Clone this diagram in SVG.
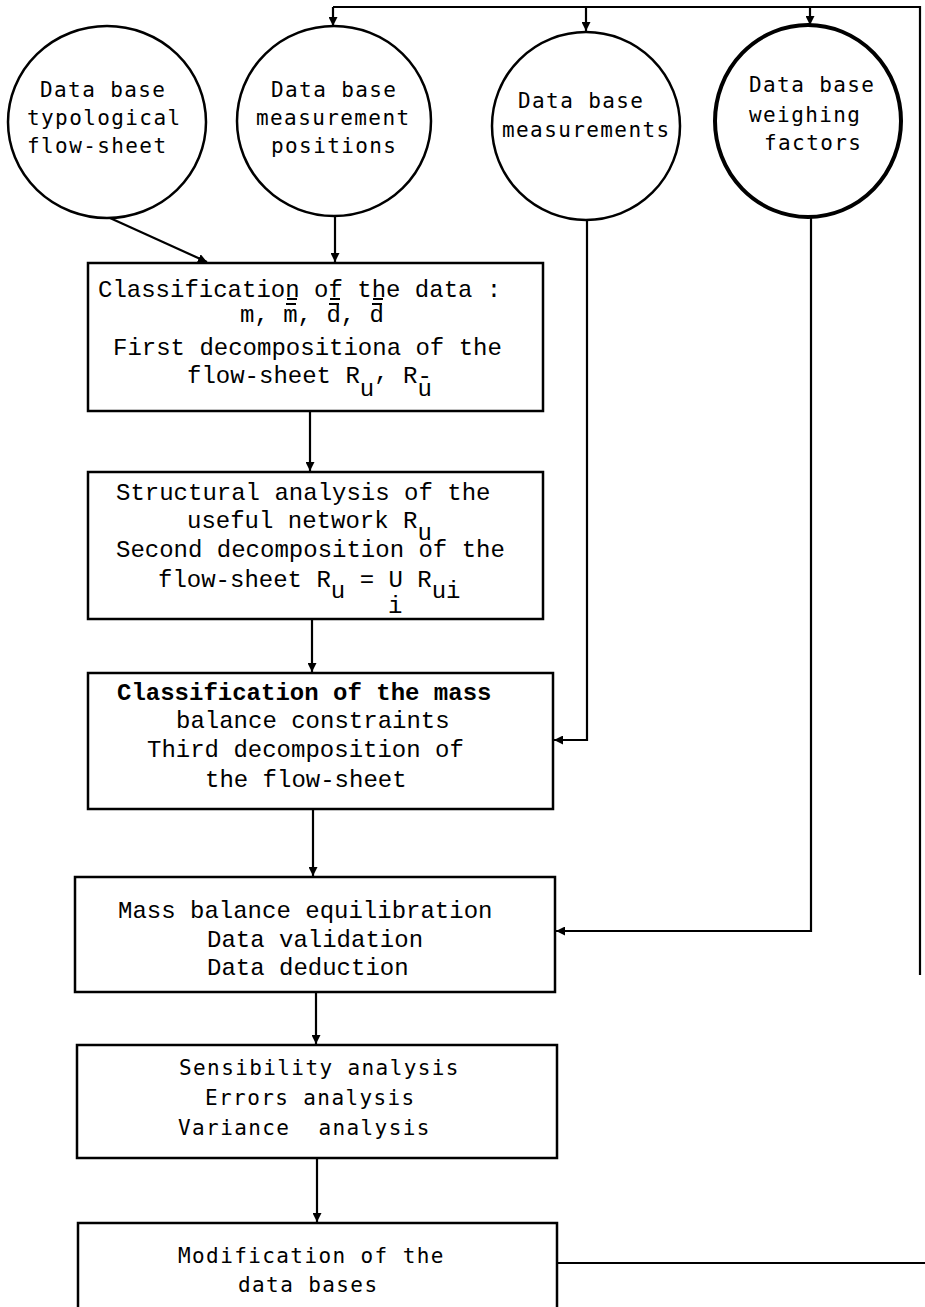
<svg xmlns="http://www.w3.org/2000/svg" width="925" height="1307" viewBox="0 0 925 1307">
  <style>
    .db { fill: #fff; stroke: #000; stroke-width: 2.5; }
    .db.heavy { stroke-width: 4; }
    .box { fill: #fff; stroke: #000; stroke-width: 2.5; }
    .wire { fill: none; stroke: #000; stroke-width: 2.2; }
    .bar { stroke: #000; stroke-width: 2; }
    .sans { font-family: "DejaVu Sans Mono", "Liberation Mono", monospace; font-size: 21px; letter-spacing: 1.4px; fill: #000; white-space: pre; }
    .mono { font-family: "Liberation Mono", "Courier New", monospace; font-size: 24px; fill: #000; }
    .bold { font-weight: bold; }
  </style>
  <defs>
    <marker id="head" viewBox="0 0 10 10" refX="10" refY="5" markerWidth="9" markerHeight="9" markerUnits="userSpaceOnUse" orient="auto">
      <path d="M0,0 L10,5 L0,10 z" fill="#000"/>
    </marker>
  </defs>

  <!-- connectors -->
  <g id="connectors">
    <!-- feedback loop: modification back to the data bases -->
    <polyline class="wire" points="557,1263 925,1263"/>
    <polyline class="wire" points="920,975 920,7 333,7"/>
    <line class="wire" x1="333" y1="7" x2="333" y2="26" marker-end="url(#head)"/>
    <line class="wire" x1="586" y1="7" x2="586" y2="31" marker-end="url(#head)"/>
    <line class="wire" x1="810" y1="7" x2="810" y2="25" marker-end="url(#head)"/>
    <!-- data bases into the first classification -->
    <line class="wire" x1="110" y1="218" x2="207" y2="262" marker-end="url(#head)"/>
    <line class="wire" x1="335" y1="217" x2="335" y2="262" marker-end="url(#head)"/>
    <!-- measurements into the constraint classification -->
    <polyline class="wire" points="587,220 587,740 554,740" marker-end="url(#head)"/>
    <!-- weighing factors into the equilibration -->
    <polyline class="wire" points="811,217 811,931 556,931" marker-end="url(#head)"/>
    <!-- main chain -->
    <line class="wire" x1="310" y1="411" x2="310" y2="471" marker-end="url(#head)"/>
    <line class="wire" x1="312" y1="619" x2="312" y2="672" marker-end="url(#head)"/>
    <line class="wire" x1="313" y1="809" x2="313" y2="876" marker-end="url(#head)"/>
    <line class="wire" x1="316" y1="992" x2="316" y2="1044" marker-end="url(#head)"/>
    <line class="wire" x1="317" y1="1158" x2="317" y2="1222" marker-end="url(#head)"/>
  </g>

  <!-- data bases -->
  <g id="db-typological">
    <ellipse class="db" cx="107" cy="122" rx="99" ry="96"/>
    <text class="sans" x="40" y="97">Data base</text>
    <text class="sans" x="27" y="125">typological</text>
    <text class="sans" x="27" y="153">flow-sheet</text>
  </g>
  <g id="db-positions">
    <ellipse class="db" cx="334" cy="121" rx="97" ry="95"/>
    <text class="sans" x="271" y="97">Data base</text>
    <text class="sans" x="256" y="125">measurement</text>
    <text class="sans" x="271" y="153">positions</text>
  </g>
  <g id="db-measurements">
    <ellipse class="db" cx="586" cy="126" rx="94" ry="94"/>
    <text class="sans" x="518" y="108">Data base</text>
    <text class="sans" x="502" y="137">measurements</text>
  </g>
  <g id="db-weighing">
    <ellipse class="db heavy" cx="808" cy="121" rx="93" ry="96"/>
    <text class="sans" x="749" y="92">Data base</text>
    <text class="sans" x="749" y="122">weighing</text>
    <text class="sans" x="764" y="150">factors</text>
  </g>

  <!-- processing steps -->
  <g id="step-classify-data">
    <rect class="box" x="88" y="263" width="455" height="148"/>
    <text class="mono" x="98" y="297">Classification of the data :</text>
    <line class="bar" x1="287" y1="299" x2="297" y2="299"/>
    <line class="bar" x1="330" y1="299" x2="340" y2="299"/>
    <line class="bar" x1="373" y1="299" x2="383" y2="299"/>
    <text class="mono" x="240" y="322">m, m, d, d</text>
    <line class="bar" x1="286" y1="304" x2="296" y2="304"/>
    <line class="bar" x1="329" y1="304" x2="339" y2="304"/>
    <line class="bar" x1="372" y1="304" x2="382" y2="304"/>
    <text class="mono" x="113" y="355">First decompositiona of the</text>
    <text class="mono" x="187" y="383">flow-sheet R<tspan dy="13">u</tspan><tspan dy="-16">,</tspan><tspan dy="3"> R-</tspan><tspan dx="-14.4" dy="13">u</tspan></text>
  </g>

  <g id="step-structural">
    <rect class="box" x="88" y="472" width="455" height="147"/>
    <text class="mono" x="116" y="500">Structural analysis of the</text>
    <text class="mono" x="187" y="528">useful network R<tspan dy="12">u</tspan></text>
    <text class="mono" x="116" y="557">Second decomposition of the</text>
    <text class="mono" x="158" y="587">flow-sheet R<tspan dy="11">u</tspan><tspan dy="-11"> = U R</tspan><tspan dy="11">ui</tspan></text>
    <text class="mono" x="388" y="613">i</text>
  </g>

  <g id="step-constraints">
    <rect class="box" x="88" y="673" width="465" height="136"/>
    <text class="mono bold" x="117" y="700">Classification of the mass</text>
    <text class="mono" x="176" y="728">balance constraints</text>
    <text class="mono" x="147" y="757">Third decomposition of</text>
    <text class="mono" x="205" y="787">the flow-sheet</text>
  </g>

  <g id="step-equilibration">
    <rect class="box" x="75" y="877" width="480" height="115"/>
    <text class="mono" x="118" y="918">Mass balance equilibration</text>
    <text class="mono" x="207" y="947">Data validation</text>
    <text class="mono" x="207" y="975">Data deduction</text>
  </g>

  <g id="step-analysis">
    <rect class="box" x="77" y="1045" width="480" height="113"/>
    <text class="sans" x="179" y="1075">Sensibility analysis</text>
    <text class="sans" x="205" y="1105">Errors analysis</text>
    <text class="sans" x="178" y="1135" xml:space="preserve">Variance  analysis</text>
  </g>

  <g id="step-modification">
    <rect class="box" x="78" y="1223" width="479" height="100"/>
    <text class="sans" x="178" y="1263">Modification of the</text>
    <text class="sans" x="238" y="1292">data bases</text>
  </g>
</svg>
